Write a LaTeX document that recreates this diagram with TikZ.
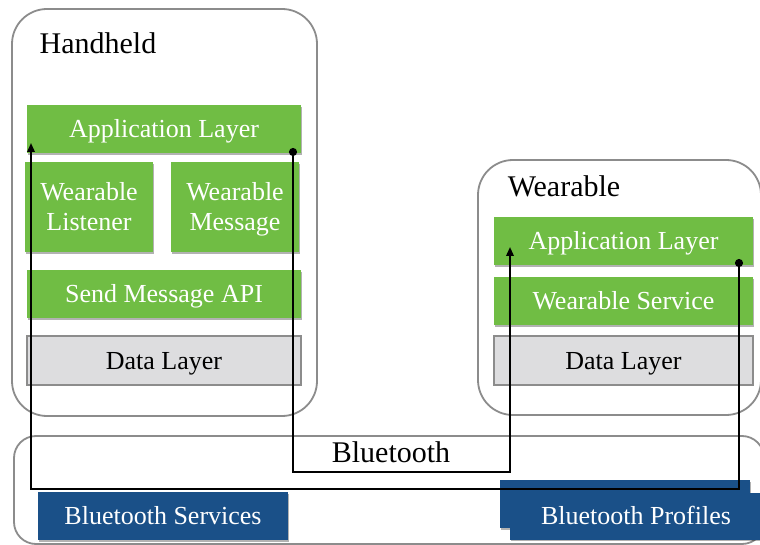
\documentclass[tikz,border=0pt]{standalone}
\usepackage{fontspec}
\setmainfont{Liberation Serif}
\usetikzlibrary{arrows.meta,shadows}
\definecolor{grn}{RGB}{112,189,68}
\definecolor{blu}{RGB}{26,80,136}
\definecolor{lgray}{RGB}{221,221,223}
\definecolor{bord}{RGB}{140,140,140}
\begin{document}
\begin{tikzpicture}[x=1pt,y=-1pt,
  device/.style={draw=bord, line width=1.8pt, rounded corners=35pt, minimum width=#1, inner sep=0pt},
  titletext/.style={font=\fontsize{30}{32}\selectfont, inner sep=0pt},
  shad/.style={drop shadow={shadow xshift=0.8pt, shadow yshift=-1.6pt, opacity=.3, fill=black}},
  boxtext/.style={font=\fontsize{26}{30}\selectfont, inner sep=0pt, text height=17pt, text depth=0pt},
  gbox/.style={shad, boxtext, fill=grn, text=white, align=center},
  twoline/.style={text height=47pt, text depth=0pt},
  dbox/.style={boxtext, fill=lgray, draw=bord, line width=1.5pt},
  bbox/.style={shad, boxtext, fill=blu, text=white},
  conn/.style={line width=1.9pt, black},
]
\clip (0,0) rectangle (760,545);
\fill[white] (0,0) rectangle (760,545);

% outer containers
\node[device=305pt, minimum height=407pt] (hand) at (164.5,212.5) {};
\node[device=283pt, minimum height=255pt] (wear) at (619.5,287.5) {};
\node[device=750pt, minimum height=108pt, rounded corners=22pt] (bt) at (389,490) {};

\node[titletext] (handt) at (98,43) {Handheld};
\node[titletext] (weart) at (564,186) {Wearable};
\node[titletext] (btt) at (391,452) {Bluetooth};

% handheld stack
\node[gbox, minimum width=274pt, minimum height=48pt] (happ) at (164,129) {Application Layer};
\node[gbox, twoline, minimum width=128pt, minimum height=90pt] (hlis) at (89,207) {Wearable\\Listener};
\node[gbox, twoline, minimum width=128pt, minimum height=90pt] (hmsg) at (235,207) {Wearable\\Message};
\node[gbox, minimum width=274pt, minimum height=48pt] (hapi) at (164,294) {Send Message API};
\node[dbox, minimum width=274pt, minimum height=49pt] (hdat) at (164,360.5) {Data Layer};

% wearable stack
\node[gbox, minimum width=259pt, minimum height=48pt] (wapp) at (623.5,241) {Application Layer};
\node[gbox, minimum width=259pt, minimum height=48pt] (wsrv) at (623.5,301) {Wearable Service};
\node[dbox, minimum width=259pt, minimum height=49pt] (wdat) at (623.5,360.5) {Data Layer};

% bluetooth boxes
\node[bbox, minimum width=250pt, minimum height=48pt] (bsrv) at (163,516) {Bluetooth Services};
\node[bbox, minimum width=250pt, minimum height=48pt] (bprb) at (625,504) {};
\node[bbox, minimum width=252pt, minimum height=47pt] (bprf) at (636,516) {Bluetooth Profiles};

% connectors
\coordinate (d1) at (739,259);
\coordinate (c1) at (739,489);
\coordinate (a1) at (31,143);
\coordinate (d2) at (293,148);
\coordinate (c2) at (293,472);
\coordinate (a2) at (510,247);
\draw[conn, {Circle[length=8pt]}-{Triangle[length=9pt,width=7.5pt]}] (d1) -- (c1) -| (a1);
\draw[conn, {Circle[length=8pt]}-{Triangle[length=9pt,width=7.5pt]}] (d2) -- (c2) -| (a2);
\end{tikzpicture}
\end{document}
